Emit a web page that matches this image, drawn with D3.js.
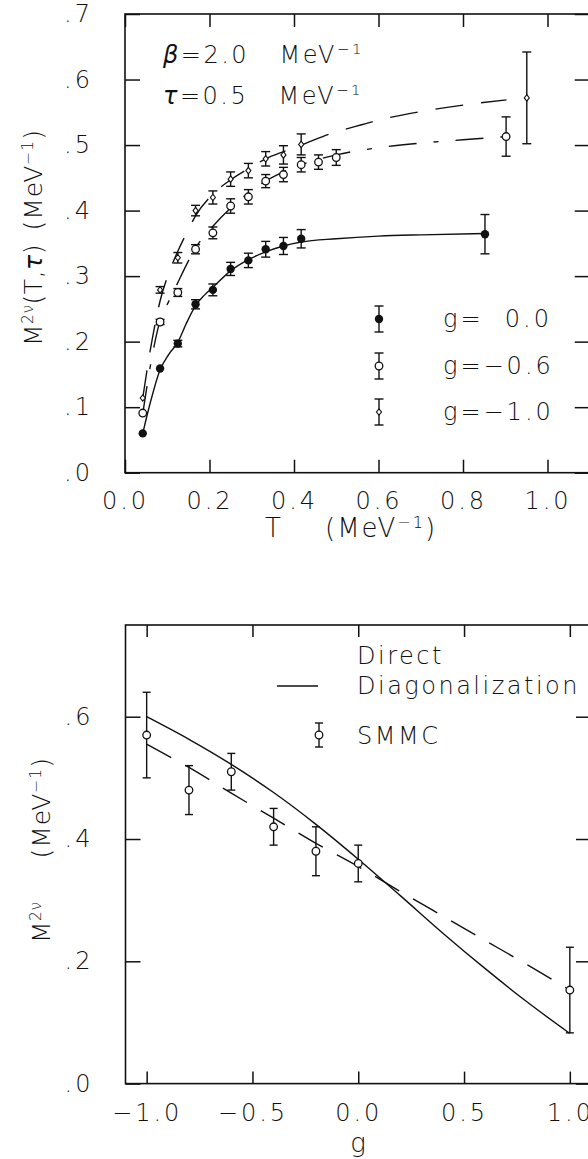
<!DOCTYPE html>
<html>
<head>
<meta charset="utf-8">
<script src="https://cdn.jsdelivr.net/npm/d3@7"></script>
<style>
  html, body { margin: 0; padding: 0; background: #fff; }
  svg text { font-family: "DejaVu Sans", "Liberation Sans", sans-serif; font-weight: 200; fill: #111; white-space: pre; }
</style>
</head>
<body>
<svg id="fig" width="588" height="1159"></svg>
<script>
// ---------- upper panel: M2nu(T, tau) against T ----------
const tTicks = [0.0, 0.2, 0.4, 0.6, 0.8, 1.0];
const tTickLabels = ["0.0", "0.2", "0.4", "0.6", "0.8", "1.0"];
const mTopTicks = [0.0, 0.1, 0.2, 0.3, 0.4, 0.5, 0.6, 0.7];
const mTopTickLabels = [".0", ".1", ".2", ".3", ".4", ".5", ".6", ".7"];
const tDomain = [0, 1.1];
const mTopDomain = [0, 0.7];

// SMMC points, g = 0.0 (filled circles)
const tG00 = [0.042, 0.083, 0.125, 0.167, 0.208, 0.25, 0.292, 0.333, 0.375, 0.417, 0.852];
const mG00 = [0.060, 0.159, 0.197, 0.257, 0.279, 0.311, 0.324, 0.341, 0.346, 0.357, 0.364];
const eG00 = [0.000, 0.000, 0.005, 0.007, 0.009, 0.010, 0.011, 0.012, 0.013, 0.014, 0.030];

// SMMC points, g = -0.6 (open circles)
const tG06 = [0.042, 0.083, 0.125, 0.167, 0.208, 0.25, 0.292, 0.333, 0.375, 0.417, 0.458, 0.5, 0.902];
const mG06 = [0.091, 0.230, 0.275, 0.341, 0.366, 0.407, 0.421, 0.445, 0.455, 0.470, 0.474, 0.481, 0.513];
const eG06 = [0.000, 0.004, 0.006, 0.007, 0.009, 0.011, 0.011, 0.010, 0.011, 0.011, 0.011, 0.012, 0.030];

// SMMC points, g = -1.0 (diamonds)
const tG10 = [0.042, 0.083, 0.125, 0.167, 0.208, 0.25, 0.292, 0.333, 0.375, 0.417, 0.951];
const mG10 = [0.114, 0.279, 0.328, 0.400, 0.420, 0.448, 0.461, 0.479, 0.485, 0.501, 0.572];
const eG10 = [0.000, 0.005, 0.008, 0.008, 0.010, 0.011, 0.011, 0.011, 0.014, 0.016, 0.070];

// smooth fits through each set
const fitT00 = [0.042, 0.062, 0.083, 0.104, 0.125, 0.146, 0.167, 0.188, 0.208, 0.25, 0.292, 0.333, 0.375, 0.417, 0.5, 0.6, 0.7, 0.852];
const fitM00 = [0.060, 0.112, 0.157, 0.181, 0.199, 0.229, 0.255, 0.271, 0.283, 0.308, 0.325, 0.337, 0.346, 0.352, 0.357, 0.361, 0.363, 0.365];
const fitT06 = [0.042, 0.062, 0.083, 0.104, 0.125, 0.146, 0.167, 0.208, 0.25, 0.292, 0.333, 0.375, 0.417, 0.5, 0.6, 0.7, 0.8, 0.902];
const fitM06 = [0.090, 0.170, 0.232, 0.262, 0.290, 0.318, 0.343, 0.376, 0.404, 0.427, 0.445, 0.459, 0.470, 0.485, 0.496, 0.503, 0.508, 0.513];
const fitT10 = [0.042, 0.062, 0.083, 0.104, 0.125, 0.146, 0.167, 0.208, 0.25, 0.292, 0.333, 0.375, 0.417, 0.49, 0.56, 0.6, 0.7, 0.8, 0.903];
const fitM10 = [0.114, 0.195, 0.262, 0.305, 0.338, 0.366, 0.392, 0.425, 0.447, 0.464, 0.479, 0.490, 0.500, 0.518, 0.531, 0.538, 0.551, 0.561, 0.569];

// ---------- lower panel: M2nu against g ----------
const gTicks = [-1.0, -0.5, 0.0, 0.5, 1.0];
const gTickLabels = ["\u22121.0", "\u22120.5", "0.0", "0.5", "1.0"];
const mBotTicks = [0.0, 0.2, 0.4, 0.6];
const mBotTickLabels = [".0", ".2", ".4", ".6"];
const gDomain = [-1.1, 1.1];
const mBotDomain = [0, 0.75];

const gSmmc = [-1.0, -0.8, -0.6, -0.4, -0.2, 0.0, 1.0];
const mSmmc = [0.570, 0.480, 0.510, 0.420, 0.380, 0.360, 0.153];
const eSmmc = [0.070, 0.040, 0.030, 0.030, 0.040, 0.030, 0.070];

const gCurve = [-1.0, -0.8, -0.6, -0.4, -0.2, 0.0, 0.2, 0.4, 0.6, 0.8, 1.0];
const mDiag = [0.600, 0.563, 0.522, 0.476, 0.424, 0.367, 0.307, 0.246, 0.188, 0.133, 0.082];
const mFit  = [0.555, 0.517, 0.475, 0.434, 0.393, 0.355, 0.314, 0.274, 0.234, 0.194, 0.153];

const zip = (a, b) => a.map((v, i) => [v, b[i]]);
const INK = "#111";

const svg = d3.select("#fig");

const xT = d3.scaleLinear().domain(tDomain).range([125, 589.75]);
const yT = d3.scaleLinear().domain(mTopDomain).range([472.7, 14]);
const xG = d3.scaleLinear().domain(gDomain).range([125.5, 591]);
const yG = d3.scaleLinear().domain(mBotDomain).range([1083.6, 625]);

// boxed frame with inward ticks on all four sides
function frame(x, y, xTicks, xLabels, yTicks, yLabels, xPad, yPad, xTickLen, yTickLen) {
  const g = svg.append("g");
  const [x0, x1] = x.range();
  const [y0, y1] = y.range();
  const style = sel => {
    sel.select(".domain").remove();
    sel.selectAll("line").attr("stroke", INK).attr("stroke-width", 1.5);
    sel.attr("font-family", null).attr("font-size", null);
    sel.selectAll("text").attr("font-size", 24).style("letter-spacing", "3px").attr("fill", INK);
  };
  g.append("g").attr("transform", `translate(0,${y0})`)
    .call(d3.axisBottom(x).tickValues(xTicks).tickFormat((d, i) => xLabels[i]).tickSize(-xTickLen).tickPadding(xPad))
    .call(style);
  g.append("g").attr("transform", `translate(0,${y1})`)
    .call(d3.axisTop(x).tickValues(xTicks).tickFormat("").tickSize(-xTickLen))
    .call(style);
  g.append("g").attr("transform", `translate(${x0},0)`)
    .call(d3.axisLeft(y).tickValues(yTicks).tickFormat((d, i) => yLabels[i]).tickSize(-yTickLen).tickPadding(yPad))
    .call(style);
  g.append("g").attr("transform", `translate(${x1},0)`)
    .call(d3.axisRight(y).tickValues(yTicks).tickFormat("").tickSize(-yTickLen))
    .call(style);
  g.append("rect").attr("x", x0).attr("y", y1).attr("width", x1 - x0).attr("height", y0 - y1)
    .attr("fill", "none").attr("stroke", INK).attr("stroke-width", 1.6);
  return g;
}

function errorBar(g, cx, yLo, yHi, cap) {
  g.append("line").attr("x1", cx).attr("x2", cx).attr("y1", yLo).attr("y2", yHi)
    .attr("stroke", INK).attr("stroke-width", 1.4);
  [yLo, yHi].forEach(yy => g.append("line").attr("x1", cx - cap).attr("x2", cx + cap)
    .attr("y1", yy).attr("y2", yy).attr("stroke", INK).attr("stroke-width", 1.4));
}

function marker(g, kind, cx, cy) {
  if (kind === "filled") {
    g.append("circle").attr("cx", cx).attr("cy", cy).attr("r", 4.2).attr("fill", INK);
  } else if (kind === "open") {
    g.append("circle").attr("cx", cx).attr("cy", cy).attr("r", 3.8)
      .attr("fill", "#fff").attr("stroke", INK).attr("stroke-width", 1.3);
  } else {
    const s = 3.2;
    g.append("path").attr("d", `M${cx},${cy - s}L${cx + s * 0.8},${cy}L${cx},${cy + s}L${cx - s * 0.8},${cy}Z`)
      .attr("fill", "#fff").attr("stroke", INK).attr("stroke-width", 1.1);
  }
}

function series(g, x, y, xs, ms, es, kind, cap) {
  xs.forEach((t, i) => {
    const cx = x(t);
    if (es[i] > 0) errorBar(g, cx, y(ms[i] - es[i]), y(ms[i] + es[i]), cap);
  });
  xs.forEach((t, i) => marker(g, kind, x(t), y(ms[i])));
}

function addText(g, x, y, parts, opts = {}) {
  const t = g.append("text").attr("x", x).attr("y", y)
    .attr("font-size", opts.size || 24)
    .attr("text-anchor", opts.anchor || "start")
    .style("letter-spacing", (opts.spacing != null ? opts.spacing : 2.5) + "px");
  if (opts.transform) t.attr("transform", opts.transform);
  parts.forEach(p => {
    const s = t.append("tspan").text(p.text);
    if (p.sup) s.attr("baseline-shift", "super").attr("font-size", (opts.size || 24) * 0.62);
    if (p.italic) s.attr("font-style", "italic");
  });
  return t;
}

const line = (x, y) => d3.line().x(d => x(d[0])).y(d => y(d[1])).curve(d3.curveMonotoneX);
const smooth = (x, y) => d3.line().x(d => x(d[0])).y(d => y(d[1])).curve(d3.curveCatmullRom.alpha(0.5));

// ===== upper panel =====
const upper = frame(xT, yT, tTicks, tTickLabels, mTopTicks, mTopTickLabels, 19, 32, 13, 15);

upper.append("path").datum(zip(fitT00, fitM00)).attr("d", line(xT, yT))
  .attr("fill", "none").attr("stroke", INK).attr("stroke-width", 1.4);
upper.append("path").datum(zip(fitT06, fitM06)).attr("d", line(xT, yT))
  .attr("fill", "none").attr("stroke", INK).attr("stroke-width", 1.4).attr("stroke-dasharray", "28,17,5,17");
upper.append("path").datum(zip(fitT10, fitM10)).attr("d", line(xT, yT))
  .attr("fill", "none").attr("stroke", INK).attr("stroke-width", 1.4).attr("stroke-dasharray", "28,18");

series(upper, xT, yT, tG00, mG00, eG00, "filled", 4.5);
series(upper, xT, yT, tG06, mG06, eG06, "open", 4.5);
series(upper, xT, yT, tG10, mG10, eG10, "diamond", 4.5);

// parameters
addText(upper, 163, 63, [{ text: "\u03B2", italic: true }, { text: "=2.0   MeV" }, { text: "\u22121", sup: true }]);
addText(upper, 163, 104, [{ text: "\u03C4", italic: true }, { text: "=0.5   MeV" }, { text: "\u22121", sup: true }]);

// legend
const legTop = [["filled", 319, "g=  0.0"], ["open", 366, "g=\u22120.6"], ["diamond", 412, "g=\u22121.0"]];
legTop.forEach(([kind, ly, label]) => {
  errorBar(upper, 379, ly + 13, ly - 13, 4.5);
  marker(upper, kind, 379, ly);
  addText(upper, 443, ly + 8, [{ text: label }], { spacing: 3 });
});

// axis titles
addText(upper, 273, 537, [{ text: "T" }], { size: 26, anchor: "middle", spacing: 0 });
addText(upper, 325, 537, [{ text: "(MeV" }, { text: "\u22121", sup: true }, { text: ")" }], { size: 26, spacing: 2 });
addText(upper, 0, 0, [{ text: "M" }, { text: "2\u03BD", sup: true }, { text: "(T," }, { text: "\u03C4", italic: true }, { text: ")" }],
  { size: 25, spacing: 0.5, transform: "translate(42,346) rotate(-90)" });
addText(upper, 0, 0, [{ text: "(MeV" }, { text: "\u22121", sup: true }, { text: ")" }],
  { size: 25, spacing: 1, anchor: "end", transform: "translate(42,129) rotate(-90)" });

// ===== lower panel =====
const lower = frame(xG, yG, gTicks, gTickLabels, mBotTicks, mBotTickLabels, 20, 32, 12, 15);

lower.append("path").datum(zip(gCurve, mDiag)).attr("d", smooth(xG, yG))
  .attr("fill", "none").attr("stroke", INK).attr("stroke-width", 1.4);
lower.append("path").datum(zip(gCurve, mFit)).attr("d", smooth(xG, yG))
  .attr("fill", "none").attr("stroke", INK).attr("stroke-width", 1.4).attr("stroke-dasharray", "28,16");

series(lower, xG, yG, gSmmc, mSmmc, eSmmc, "open", 4);

// legend
lower.append("line").attr("x1", 277).attr("x2", 318).attr("y1", 686).attr("y2", 686)
  .attr("stroke", INK).attr("stroke-width", 1.4);
addText(lower, 357, 664, [{ text: "Direct" }]);
addText(lower, 357, 694, [{ text: "Diagonalization" }]);
errorBar(lower, 319, 747, 723, 4);
marker(lower, "open", 319, 735);
addText(lower, 357, 744, [{ text: "SMMC" }]);

// axis titles
addText(lower, 358, 1152, [{ text: "g" }], { size: 26, anchor: "middle", spacing: 0 });
addText(lower, 0, 0, [{ text: "M" }, { text: "2\u03BD", sup: true }],
  { size: 25, spacing: 0.5, transform: "translate(50,943) rotate(-90)" });
addText(lower, 0, 0, [{ text: "(MeV" }, { text: "\u22121", sup: true }, { text: ")" }],
  { size: 25, spacing: 1, anchor: "end", transform: "translate(50,757) rotate(-90)" });
</script>
</body>
</html>
